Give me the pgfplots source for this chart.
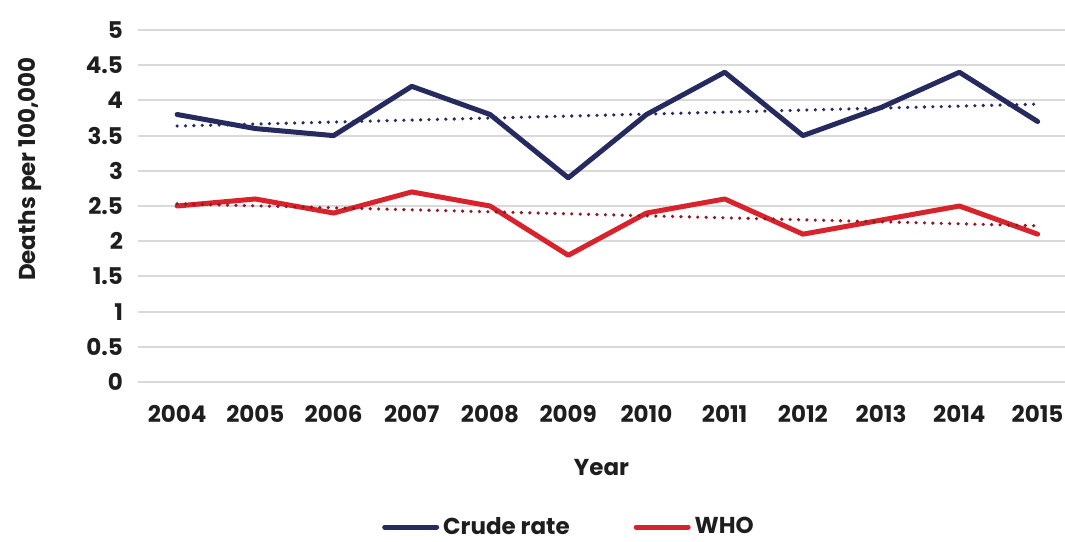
\documentclass[border=0pt]{standalone}
\usepackage{fontspec}
\setmainfont{Poppins}
\usepackage{pgfplots}
\pgfplotsset{compat=1.18}
\definecolor{navy}{HTML}{262A5E}
\definecolor{redw}{HTML}{D8232D}
\definecolor{redt}{HTML}{8E1A26}
\definecolor{gridgray}{HTML}{D9D9D9}
\definecolor{txt}{HTML}{1E1E1E}
\begin{document}
\begin{tikzpicture}
\begin{axis}[
  scale only axis, width=463.5pt, height=176pt,
  at={(0,0)}, anchor=south west,
  xmin=2003.5, xmax=2015.35, ymin=0, ymax=5,
  axis line style={draw=none},
  tick style={draw=none},
  ymajorgrids, grid style={color=gridgray, line width=1pt},
  xtick={2004,...,2015},
  xticklabels={2004,2005,2006,2007,2008,2009,2010,2011,2012,2013,2014,2015},
  ytick={0,0.5,1,1.5,2,2.5,3,3.5,4,4.5,5},
  yticklabels={0,0.5,1,1.5,2,2.5,3,3.5,4,4.5,5},
  ticklabel style={font=\bfseries\fontsize{11.5}{13}\selectfont, text=txt},
  yticklabel style={xshift=-4pt},
  xticklabel style={yshift=-8pt},
  xlabel={Year}, ylabel={Deaths per 100,000},
  every axis y label/.style={at={(axis description cs:-0.116,0.605)},rotate=90,anchor=center,
     font=\bfseries\fontsize{11.5}{13}\selectfont, text=txt},
  every axis x label/.style={at={(axis description cs:0.5,-0.2443)},anchor=center,
     font=\bfseries\fontsize{11.5}{13}\selectfont, text=txt},
  legend style={at={(axis description cs:0.466,-0.412)},anchor=center, draw=none,
    legend columns=2, font=\bfseries\fontsize{11.5}{13}\selectfont, text=txt,
    /tikz/every even column/.append style={column sep=30pt}},
  legend image code/.code={\draw[#1, line width=2.5pt, line cap=round] (0pt,0pt) -- (26pt,0pt);},
]
\addplot[navy, line width=2.5pt, line join=round, line cap=round] coordinates {
 (2004,3.8) (2005,3.6) (2006,3.5) (2007,4.2) (2008,3.8) (2009,2.9)
 (2010,3.8) (2011,4.4) (2012,3.5) (2013,3.9) (2014,4.4) (2015,3.7)};
\addlegendentry{Crude rate}
\addplot[redw, line width=2.5pt, line join=round, line cap=round] coordinates {
 (2004,2.5) (2005,2.6) (2006,2.4) (2007,2.7) (2008,2.5) (2009,1.8)
 (2010,2.4) (2011,2.6) (2012,2.1) (2013,2.3) (2014,2.5) (2015,2.1)};
\addlegendentry{WHO}
\addplot[navy, forget plot, line width=1.8pt, line cap=round, dash pattern=on 0pt off 4.2pt] coordinates {(2004,3.636) (2015,3.947)};
\addplot[redt, forget plot, line width=1.8pt, line cap=round, dash pattern=on 0pt off 4.2pt] coordinates {(2004,2.531) (2015,2.219)};
\end{axis}
\pgfresetboundingbox
\path (-69pt,-79.5pt) rectangle (463.5pt,191pt);
\end{tikzpicture}
\end{document}
